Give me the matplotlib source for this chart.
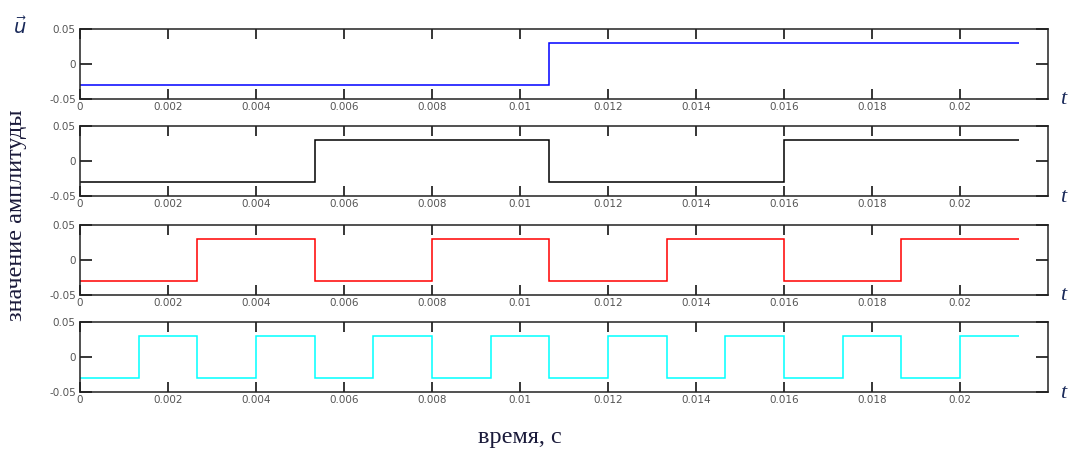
import matplotlib
matplotlib.use('Agg')
import matplotlib.pyplot as plt

# switching instants (s)
t_edges = [0, 0.001333, 0.002667, 0.004, 0.005333, 0.006667, 0.008, 0.009333,
           0.010667, 0.012, 0.013333, 0.014667, 0.016, 0.017333, 0.018667,
           0.02, 0.021333]

lo, hi = -0.03, 0.03
u1 = [lo, lo, lo, lo, lo, lo, lo, lo, hi, hi, hi, hi, hi, hi, hi, hi]
u2 = [lo, lo, lo, lo, hi, hi, hi, hi, lo, lo, lo, lo, hi, hi, hi, hi]
u3 = [lo, lo, hi, hi, lo, lo, hi, hi, lo, lo, hi, hi, lo, lo, hi, hi]
u4 = [lo, hi, lo, hi, lo, hi, lo, hi, lo, hi, lo, hi, lo, hi, lo, hi]

signals = [u1, u2, u3, u4]
colors = ['#0000ff', '#000000', '#ff0000', '#00ffff']

x_ticks = [0, 0.002, 0.004, 0.006, 0.008, 0.01, 0.012, 0.014, 0.016, 0.018, 0.02]
x_labels = ['0', '0.002', '0.004', '0.006', '0.008', '0.01', '0.012', '0.014',
            '0.016', '0.018', '0.02']
y_ticks = [-0.05, 0, 0.05]
y_labels = ['-0.05', '0', '0.05']

W, H = 1069, 450
fig = plt.figure(figsize=(W / 100, H / 100), dpi=100)

left, right = 80, 1048
tops = [29, 126, 225, 322]
height = 70

for i, (vals, c) in enumerate(zip(signals, colors)):
    top = tops[i]
    ax = fig.add_axes([left / W, 1 - (top + height) / H, (right - left) / W, height / H])
    ax.stairs(vals, t_edges, baseline=None, color=c, lw=1.1)
    ax.set_xlim(0, 0.0220)
    ax.set_ylim(-0.05, 0.05)
    ax.set_xticks(x_ticks)
    ax.set_xticklabels(x_labels)
    ax.set_yticks(y_ticks)
    ax.set_yticklabels(y_labels)
    ax.tick_params(axis='x', direction='in', top=True, length=7, width=1.1,
                   labelsize=7.5, labelcolor='#555555', pad=2)
    ax.tick_params(axis='y', direction='in', right=True, length=8.5, width=1.1,
                   labelsize=7.5, labelcolor='#555555', pad=3)
    for s in ax.spines.values():
        s.set_linewidth(1.1)
        s.set_color('#222222')
    fig.text(1063 / W, 1 - (top + height + 1) / H, 't', fontsize=16, style='italic',
             family='Liberation Serif', color='#1a2a5a', ha='center', va='center')

fig.text(20 / W, 1 - 27 / H, r'$\vec{u}$', fontsize=14, color='#1a2a5a',
         ha='center', va='center')
fig.text(17 / W, 1 - 215 / H, 'значение амплитуды', rotation=90,
         family='Liberation Serif', fontsize=17.5, color='#1a1a3a',
         ha='center', va='center')
fig.text(520 / W, 1 - 437 / H, 'время, с', family='Liberation Serif',
         fontsize=17.5, color='#1a1a3a', ha='center', va='center')

fig.savefig('out.png', dpi=100)
